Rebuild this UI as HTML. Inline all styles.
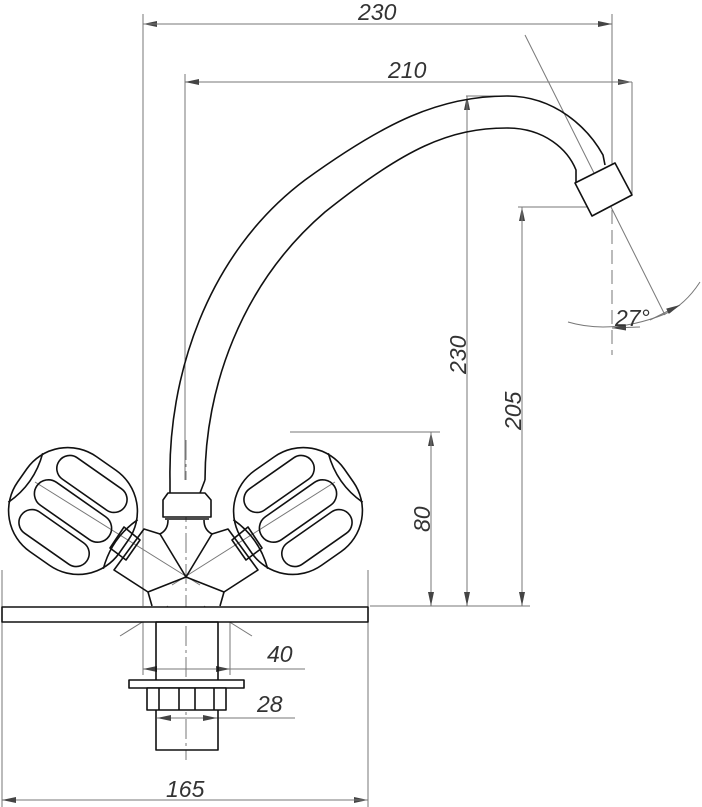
<!DOCTYPE html>
<html><head><style>html,body{margin:0;padding:0;background:#fff}svg{display:block}
text{font-family:"Liberation Sans",sans-serif;font-style:italic;font-size:23px;fill:#333}</style></head>
<body>
<svg width="702" height="807" viewBox="0 0 702 807" xmlns="http://www.w3.org/2000/svg">
<defs><marker id="a" markerWidth="14" markerHeight="6" refX="14" refY="3" orient="auto" markerUnits="userSpaceOnUse"><path d="M0,0 L14,3 L0,6z" fill="#444"/></marker></defs>
<g stroke="#777" stroke-width="1" fill="none">
<line x1="143" y1="14" x2="143" y2="606"/>
<line x1="612" y1="14" x2="612" y2="190"/>
<line x1="612" y1="190" x2="612" y2="355" stroke-dasharray="14,6"/>
<line x1="185" y1="74" x2="185" y2="480"/>
<line x1="632" y1="82" x2="632" y2="195"/>
<line x1="466" y1="96" x2="510" y2="96"/>
<line x1="518" y1="207" x2="590" y2="207"/>
<line x1="290" y1="432" x2="440" y2="432"/>
<line x1="370" y1="606" x2="530" y2="606"/>
<line x1="2" y1="570" x2="2" y2="807"/>
<line x1="368" y1="570" x2="368" y2="807"/>
<line x1="143" y1="620" x2="143" y2="675"/>
<line x1="230" y1="620" x2="230" y2="675"/>
<line x1="612" y1="24" x2="143" y2="24" marker-end="url(#a)"/>
<line x1="143" y1="24" x2="612" y2="24" marker-end="url(#a)"/>
<line x1="185" y1="82" x2="632" y2="82" marker-end="url(#a)"/>
<line x1="632" y1="82" x2="185" y2="82" marker-end="url(#a)"/>
<line x1="467" y1="606" x2="467" y2="96" marker-end="url(#a)"/>
<line x1="467" y1="96" x2="467" y2="606" marker-end="url(#a)"/>
<line x1="522" y1="606" x2="522" y2="207" marker-end="url(#a)"/>
<line x1="522" y1="207" x2="522" y2="606" marker-end="url(#a)"/>
<line x1="431" y1="606" x2="431" y2="432" marker-end="url(#a)"/>
<line x1="431" y1="432" x2="431" y2="606" marker-end="url(#a)"/>
<line x1="143" y1="669" x2="305" y2="669"/>
<line x1="160" y1="669" x2="143" y2="669" marker-end="url(#a)"/>
<line x1="213" y1="669" x2="230" y2="669" marker-end="url(#a)"/>
<line x1="157" y1="718" x2="295" y2="718"/>
<line x1="190" y1="718" x2="157" y2="718" marker-end="url(#a)"/>
<line x1="185" y1="718" x2="217" y2="718" marker-end="url(#a)"/>
<line x1="2" y1="800" x2="368" y2="800" marker-end="url(#a)"/>
<line x1="368" y1="800" x2="2" y2="800" marker-end="url(#a)"/>
<line x1="525" y1="35" x2="665" y2="315"/>
<path d="M568,322 Q612,335 665,314 Q685,305 700,282"/>
<line x1="640" y1="327" x2="612" y2="328" marker-end="url(#a)"/>
<line x1="650" y1="320" x2="680" y2="305" marker-end="url(#a)"/>
<line x1="186" y1="440" x2="186" y2="760" stroke-dasharray="20,4,3,4"/>
<line x1="35" y1="482" x2="200" y2="585"/>
<line x1="335" y1="482" x2="172" y2="585"/>
<line x1="120" y1="636" x2="168" y2="606"/><line x1="252" y1="636" x2="204" y2="606"/>
</g>
<g stroke="#111" stroke-width="1.6" fill="none" stroke-linejoin="round">
<path d="M170,480 C168,380 205,255 305,180 C385,122 440,96 507,96 C555,96 588,128 603,155 L605,165"/>
<path d="M205,480 C205,390 240,285 325,212 C405,148 450,128 507,128 C545,128 568,150 576,170 L576,183"/>
<polygon points="575,183 615,163 632,195 592,216" fill="#fff"/>
<path d="M170,480 L170,493 L200,493 L205,480 M168,493 L205,493 L211,500 L211,517 L163,517 L163,500 Z" fill="#fff"/>
<line x1="165" y1="519" x2="209" y2="519"/>
<path d="M168,520 Q168,530 160,534 L144,529 L114,570 L148,592 L186,577 L224,592 L258,570 L228,529 L212,534 Q204,530 204,520"/>
<line x1="160" y1="534" x2="186" y2="577"/><line x1="212" y1="534" x2="186" y2="577"/>
<path d="M148,592 L152,606 M224,592 L220,606"/>
<polygon points="124,527 140,540 126,560 110,548"/>
<polygon points="248,527 232,540 246,560 262,548"/>
<rect x="2" y="607" width="366" height="15" fill="#fff"/>
<rect x="156" y="622" width="62" height="128"/>
<rect x="129" y="680" width="115" height="8" fill="#fff"/>
<rect x="147" y="688" width="79" height="22" fill="#fff"/>
<path d="M159,688V710M179,688V710M195,688V710M214,688V710"/>
<g transform="translate(73,511) rotate(35)">
<rect x="-62" y="-58" width="124" height="116" rx="50"/>
<rect x="-44" y="-14" width="88" height="28" rx="14"/>
<rect x="-40" y="-46" width="80" height="26" rx="13"/>
<rect x="-40" y="20" width="80" height="26" rx="13"/>
<path d="M-58,-30 Q-47,0 -58,30 M58,-30 Q47,0 58,30"/>
</g>
<g transform="translate(298,511) rotate(-35)">
<rect x="-62" y="-58" width="124" height="116" rx="50"/>
<rect x="-44" y="-14" width="88" height="28" rx="14"/>
<rect x="-40" y="-46" width="80" height="26" rx="13"/>
<rect x="-40" y="20" width="80" height="26" rx="13"/>
<path d="M-58,-30 Q-47,0 -58,30 M58,-30 Q47,0 58,30"/>
</g>
</g>
<text x="358" y="20">230</text>
<text x="388" y="78">210</text>
<text transform="translate(466,374) rotate(-90)">230</text>
<text transform="translate(521,430) rotate(-90)">205</text>
<text transform="translate(430,532) rotate(-90)">80</text>
<text x="267" y="662">40</text>
<text x="257" y="712">28</text>
<text x="166" y="797">165</text>
<text x="615" y="326">27°</text>
</svg>
</body></html>
